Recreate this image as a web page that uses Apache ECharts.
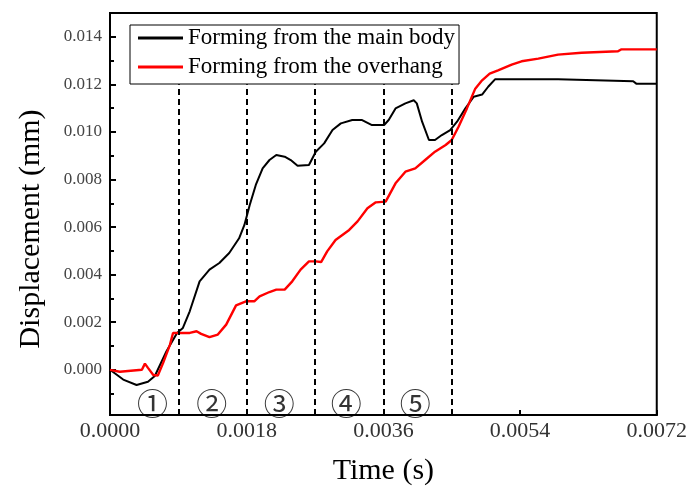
<!DOCTYPE html>
<html>
<head>
<meta charset="utf-8">
<script src="https://cdn.jsdelivr.net/npm/echarts@6/dist/echarts.min.js"></script>
<style>
  html, body { margin: 0; padding: 0; background: #fff; }
  #chart { width: 690px; height: 491px; }
</style>
</head>
<body>
<div id="chart"></div>
<script>
// Time (s) samples and displacement (mm) for forming from the main body
var mainBodyTime = [0, 0.000174, 0.00035, 0.0005, 0.00059, 0.000744, 0.000883, 0.00096, 0.00105, 0.00118,
  0.00131, 0.00144, 0.00157, 0.0017, 0.00177, 0.00184, 0.00192, 0.00201, 0.0021, 0.00219,
  0.0023, 0.00238, 0.00247, 0.00262, 0.00271, 0.00282, 0.00293, 0.00304, 0.00319, 0.00332,
  0.00345, 0.00361, 0.00367, 0.00376, 0.00389, 0.004, 0.00404, 0.00411, 0.0042, 0.00428,
  0.00437, 0.00448, 0.00457, 0.00468, 0.00479, 0.0049, 0.00498, 0.00507, 0.0059, 0.00592,
  0.00689, 0.00693, 0.0072];
var mainBodyDisp = [0, -0.00041, -0.00064, -0.0005, -0.00026, 0.00078, 0.00155, 0.00176, 0.00246, 0.00372,
  0.00421, 0.00449, 0.00491, 0.00553, 0.00609, 0.00693, 0.00777, 0.00847, 0.00882, 0.00903,
  0.00896, 0.00882, 0.00858, 0.00861, 0.00917, 0.00952, 0.01008, 0.01036, 0.0105, 0.0105,
  0.01029, 0.01029, 0.0105, 0.01099, 0.0112, 0.01133, 0.0112, 0.01043, 0.00966, 0.00966,
  0.00987, 0.01008, 0.01043, 0.01099, 0.01148, 0.01157, 0.0119, 0.01221, 0.01221, 0.01213,
  0.01213, 0.01203, 0.01203];

// Time (s) samples and displacement (mm) for forming from the overhang
var overhangTime = [0, 0.00013, 0.00031, 0.00042, 0.00046, 0.0005, 0.00057, 0.00063, 0.0007, 0.00079,
  0.00083, 0.0009, 0.00105, 0.00114, 0.0012, 0.00131, 0.00142, 0.00153, 0.00166, 0.00179,
  0.0019, 0.00197, 0.0021, 0.00219, 0.0023, 0.0024, 0.00251, 0.00262, 0.00271, 0.00278,
  0.00286, 0.00297, 0.00315, 0.00326, 0.00339, 0.0035, 0.00363, 0.00376, 0.00389, 0.00402,
  0.00415, 0.00428, 0.00442, 0.0045, 0.00459, 0.0047, 0.00481, 0.0049, 0.005, 0.00511,
  0.00529, 0.00542, 0.00564, 0.0059, 0.00621, 0.00669, 0.00673, 0.0072];
var overhangDisp = [0, -0.00008, -0.00003, 0, 0.00026, 0.00008, -0.00022, -0.00024, 0.00029, 0.00106,
  0.00155, 0.00155, 0.00155, 0.00162, 0.00151, 0.00137, 0.00148, 0.0019, 0.00271, 0.00288,
  0.00288, 0.00309, 0.00327, 0.00337, 0.00337, 0.00372, 0.00421, 0.00456, 0.00456, 0.00453,
  0.00498, 0.00546, 0.00588, 0.00624, 0.00679, 0.00704, 0.00707, 0.00784, 0.00833, 0.00847,
  0.00882, 0.00917, 0.00945, 0.00966, 0.01022, 0.01099, 0.01182, 0.01217, 0.01245, 0.01259,
  0.01283, 0.01297, 0.01308, 0.01325, 0.01333, 0.01339, 0.01347, 0.01347];

// Stage boundaries (s) and stage markers
var stageBounds = [0.0009, 0.0018, 0.0027, 0.0036, 0.0045];
var stageNames = ['①', '②', '③', '④', '⑤'];
var stageNameTime = [0.00056, 0.00134, 0.00223, 0.00311, 0.00402];
var stageNameDisp = -0.0014;

// Axis ticks
var xTicks = [0, 0.0018, 0.0036, 0.0054, 0.0072];
var yMajorTicks = [0, 0.002, 0.004, 0.006, 0.008, 0.010, 0.012, 0.014];
var yMinorTicks = [-0.001, 0.001, 0.003, 0.005, 0.007, 0.009, 0.011, 0.013];

var X_MIN = 0, X_MAX = 0.0072, Y_MIN = -0.0019, Y_MAX = 0.015;
var BOUND_TOP = 0.0120;

var SERIF = '"Liberation Serif", "Times New Roman", "DejaVu Serif", serif';

function zip(a, b) { return a.map(function (v, i) { return [v, b[i]]; }); }

var chart = echarts.init(document.getElementById('chart'), null, { renderer: 'canvas' });

var option = {
  animation: false,
  backgroundColor: '#fff',
  grid: {
    left: 110, right: 32, top: 13, bottom: 75,
    show: true, borderColor: '#000', borderWidth: 2, backgroundColor: 'transparent'
  },
  legend: {
    orient: 'vertical',
    left: 130, top: 25,
    backgroundColor: '#fff',
    borderColor: '#000', borderWidth: 1,
    padding: [0, 4, 4, 8],
    icon: 'rect',
    itemWidth: 45, itemHeight: 3, itemGap: 3,
    textStyle: { fontFamily: SERIF, fontSize: 23, lineHeight: 26, color: '#000' },
    data: ['Forming from the main body', 'Forming from the overhang']
  },
  xAxis: {
    type: 'value',
    min: X_MIN, max: X_MAX, interval: 0.0018,
    name: 'Time (s)', nameLocation: 'middle', nameGap: 41,
    nameTextStyle: { fontFamily: SERIF, fontSize: 30, color: '#000' },
    axisLine: { onZero: false, lineStyle: { color: '#000', width: 2 } },
    axisTick: { inside: true, length: 5, lineStyle: { color: '#000', width: 2 } },
    axisLabel: {
      margin: 5, fontFamily: SERIF, fontSize: 22, color: '#333',
      formatter: function (v) { return v.toFixed(4); },
      customValues: xTicks
    },
    splitLine: { show: false }
  },
  yAxis: [{
    type: 'value',
    min: Y_MIN, max: Y_MAX,
    name: 'Displacement (mm)', nameLocation: 'middle', nameGap: 64,
    nameTextStyle: { fontFamily: SERIF, fontSize: 30, color: '#000', padding: [0, 30, 0, 0] },
    axisLine: { show: true, onZero: false, lineStyle: { color: '#000', width: 2 } },
    axisTick: { inside: true, length: 6, lineStyle: { color: '#000', width: 2 }, customValues: yMajorTicks },
    axisLabel: {
      margin: 8, fontFamily: SERIF, fontSize: 17, color: '#444',
      formatter: function (v) { return v.toFixed(3); },
      customValues: yMajorTicks
    },
    splitLine: { show: false }
  }, {
    type: 'value',
    position: 'left',
    min: Y_MIN, max: Y_MAX,
    axisLine: { show: false, onZero: false },
    axisTick: { show: true, inside: true, length: 4, lineStyle: { color: '#000', width: 2 }, customValues: yMinorTicks },
    axisLabel: { show: false, customValues: yMinorTicks },
    splitLine: { show: false }
  }],
  series: [{
    name: 'Forming from the main body',
    type: 'line',
    data: zip(mainBodyTime, mainBodyDisp),
    symbol: 'none',
    lineStyle: { color: '#000', width: 2 },
    itemStyle: { color: '#000' },
    z: 3,
    markLine: {
      silent: true,
      symbol: 'none',
      label: { show: false },
      lineStyle: { color: '#000', width: 2, type: [6, 4] },
      data: stageBounds.map(function (t) {
        return [{ coord: [t, Y_MIN] }, { coord: [t, BOUND_TOP] }];
      })
    }
  }, {
    name: 'Forming from the overhang',
    type: 'line',
    data: zip(overhangTime, overhangDisp),
    symbol: 'none',
    lineStyle: { color: '#ff0000', width: 2.4 },
    itemStyle: { color: '#ff0000' },
    z: 4
  }, {
    name: 'stages',
    type: 'scatter',
    data: stageNames.map(function (n, i) { return { name: n, value: [stageNameTime[i], stageNameDisp] }; }),
    symbolSize: 0,
    silent: true,
    label: {
      show: true, position: 'inside',
      formatter: '{b}',
      fontFamily: '"Noto Sans CJK SC", "DejaVu Sans", sans-serif', fontSize: 31, color: '#000'
    },
    z: 5
  }]
};

chart.setOption(option);
</script>
</body>
</html>
